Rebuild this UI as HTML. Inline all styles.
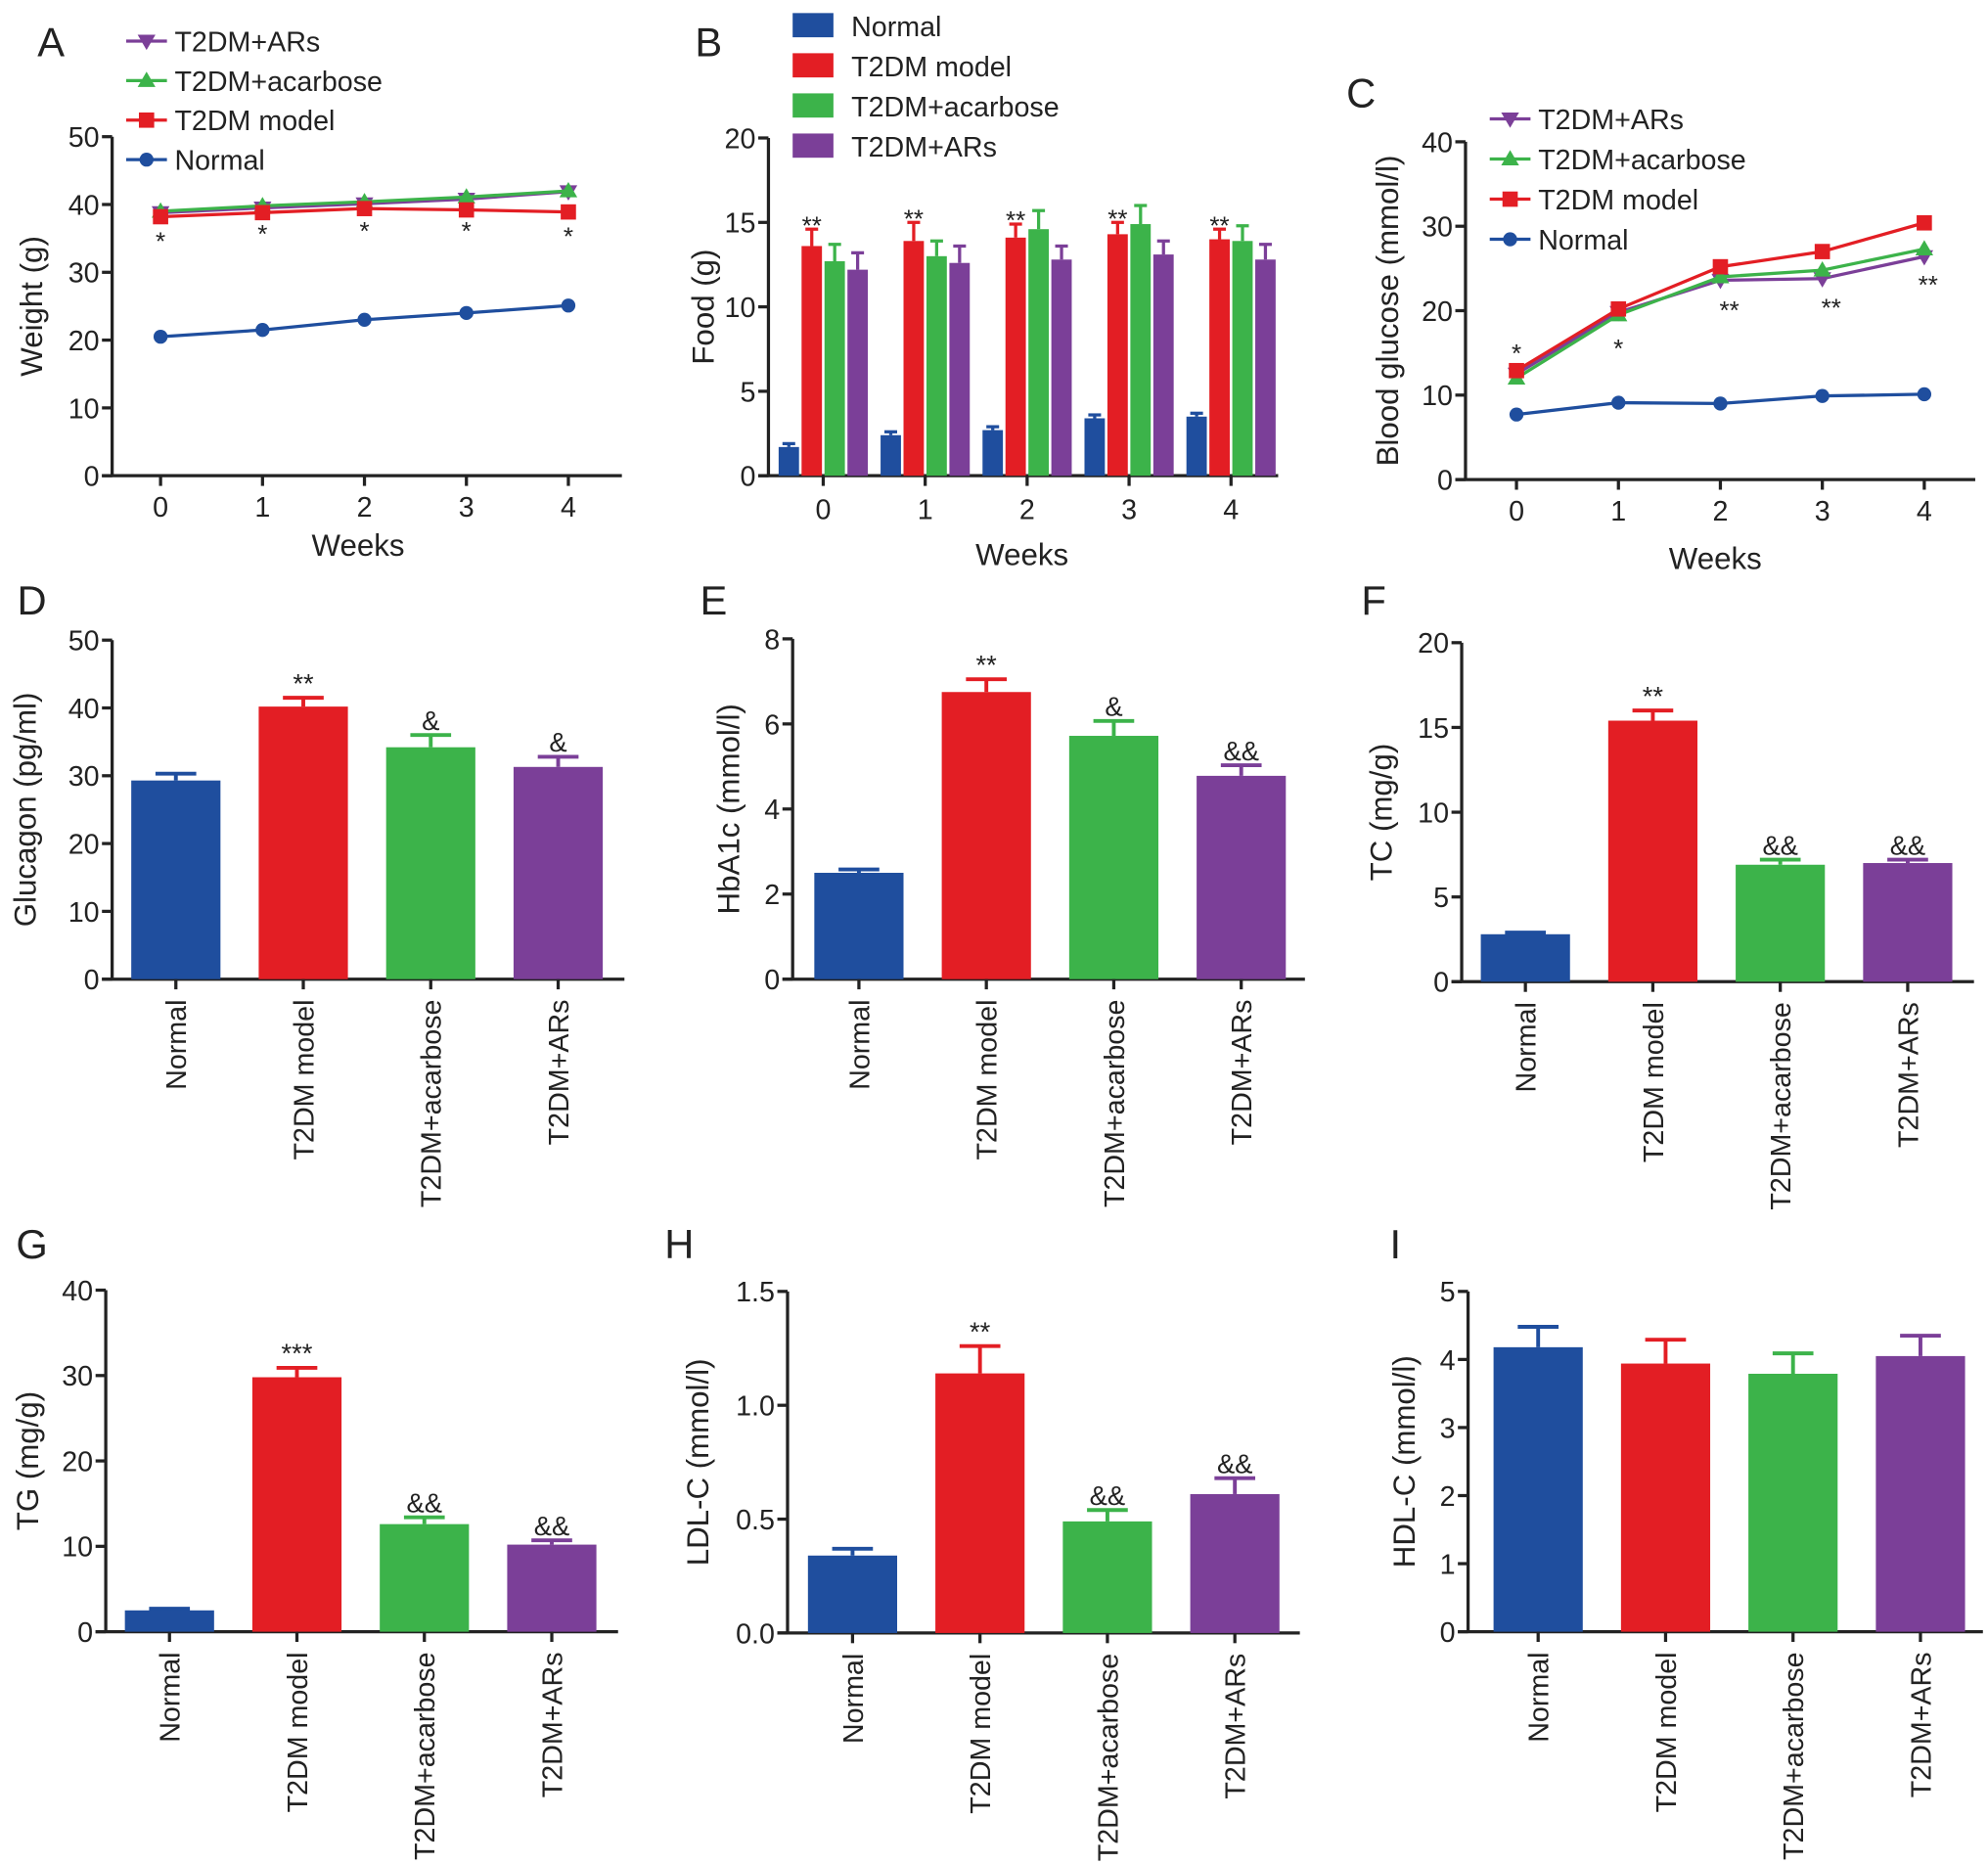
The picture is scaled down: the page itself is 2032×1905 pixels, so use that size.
<!DOCTYPE html>
<html><head><meta charset="utf-8"><style>
html,body{margin:0;padding:0;background:#fff;}
svg{display:block;font-family:"Liberation Sans",Arial,sans-serif;}
</style></head><body>
<svg id="fig" width="2032" height="1905" viewBox="0 0 1560 1462" xmlns="http://www.w3.org/2000/svg"></svg>
<script>
const groups = ["Normal","T2DM model","T2DM+acarbose","T2DM+ARs"];
const colors = ["#1f4e9e","#e31e24","#3cb34a","#7b3f98"];
const weeks = [0,1,2,3,4];
// Panel A weight
const wNormal = [20.5,21.5,23,24,25.1];
const wModel = [38.2,38.8,39.4,39.2,38.9];
const wAcar = [39,39.8,40.4,41.1,42];
const wARs = [38.8,39.5,40.1,40.8,41.9];
// Panel B food
const fNormal = [1.7,2.4,2.7,3.4,3.5];
const fModel = [13.6,13.9,14.1,14.3,14.0];
const fAcar = [12.7,13.0,14.6,14.9,13.9];
const fARs = [12.2,12.6,12.8,13.1,12.8];
const fErr = [[0.2,0.2,0.2,0.2,0.2],[1.0,1.1,0.8,0.7,0.6],[1.0,0.9,1.1,1.1,0.9],[1.0,1.0,0.8,0.8,0.9]];
// Panel C glucose
const gNormal = [7.7,9.1,9.0,9.9,10.1];
const gModel = [12.9,20.2,25.2,27.0,30.4];
const gAcar = [12.0,19.5,24.0,24.8,27.3];
const gARs = [12.5,19.8,23.6,23.8,26.4];
// Bar panels
const glucagon = [29.3,40.2,34.2,31.3], glucagonErr=[1,1.3,1.8,1.5];
const hba1c = [2.5,6.75,5.72,4.78], hba1cErr=[0.08,0.3,0.35,0.25];
const tc = [2.8,15.4,6.9,7.0], tcErr=[0.1,0.6,0.3,0.2];
const tg = [2.5,29.8,12.6,10.2], tgErr=[0.2,1.1,0.8,0.5];
const ldl = [0.34,1.14,0.49,0.61], ldlErr=[0.03,0.12,0.05,0.07];
const hdl = [4.18,3.94,3.79,4.05], hdlErr=[0.3,0.35,0.3,0.3];

const svg=document.getElementById('fig');
const NS="http://www.w3.org/2000/svg";
function mk(tag,a,parent){const e=document.createElementNS(NS,tag);for(const k in a)e.setAttribute(k,a[k]);(parent||svg).appendChild(e);return e;}
function txt(s,x,y,size,anchor,rot){const e=mk('text',{x:x,y:y,'font-size':size,'text-anchor':anchor||'middle',fill:'#222'});if(rot!==undefined)e.setAttribute('transform','rotate('+rot+' '+x+' '+y+')');e.textContent=s;return e;}
function letter(s,x,y){const e=txt(s,x,y,32,'middle');

}

function axes(ox,y0,ytop,xend,ymax,ticks,tickLbls,ylabel,ylx){
 const sy=v=>y0-(v/ymax)*(y0-ytop);
 const ya=mk('line',{x1:ox,y1:y0,x2:ox,y2:ytop,stroke:'#222','stroke-width':2.5});
 
 
 const xa=mk('line',{x1:ox-8,y1:y0,x2:xend,y2:y0,stroke:'#222','stroke-width':2.5});
 
 
 ticks.forEach((t,i)=>{mk('line',{x1:ox-8,y1:sy(t),x2:ox,y2:sy(t),stroke:'#222','stroke-width':2.5});
  const l=txt(tickLbls[i],ox-10,sy(t)+8,22,'end');
  
  });
 const yl=txt(ylabel,ylx,(y0+ytop)/2,24,'middle',-90);
 
 
 return sy;
}

function marker(type,x,y,c){
 let e;
 if(type===0)e=mk('circle',{cx:x,cy:y,r:5.5,fill:c});
 else if(type===1)e=mk('rect',{x:x-6,y:y-6,width:12,height:12,fill:c});
 else if(type===2)e=mk('polygon',{points:`${x},${y-7} ${x-7},${y+5} ${x+7},${y+5}`,fill:c});
 else e=mk('polygon',{points:`${x},${y+7} ${x-7},${y-5} ${x+7},${y-5}`,fill:c});
 
 
}

function linePanel(cfg){
 const sy=axes(cfg.ox,cfg.y0,cfg.ytop,cfg.xend,cfg.ymax,cfg.ticks,cfg.ticks.map(String),cfg.ylabel,cfg.ylx);
 const sx=w=>cfg.x0+w*cfg.dx;
 weeks.forEach(w=>{mk('line',{x1:sx(w),y1:cfg.y0,x2:sx(w),y2:cfg.y0+8,stroke:'#222','stroke-width':2.5});
  const l=txt(String(w),sx(w),cfg.y0+32,22);
  
  });
 const xt=txt('Weeks',cfg.wx,cfg.wy,24);
 
 
 const series=cfg.series;
 [3,2,1,0].forEach(si=>{
  const d=series[si];
  const p=mk('polyline',{points:weeks.map(w=>sx(w)+','+sy(d[w])).join(' '),fill:'none',stroke:colors[si],'stroke-width':2.5});
  
  
  weeks.forEach(w=>marker(si,sx(w),sy(d[w]),colors[si]));
 });
 cfg.stars.forEach(s=>{const t=txt(s[0],s[1],s[2],20);
  
  });
 [3,2,1,0].forEach((si,i)=>{const y=cfg.ly+i*cfg.lgap;
  const g=mk('g',{});
  
  
  mk('line',{x1:cfg.lx-16,y1:y,x2:cfg.lx+16,y2:y,stroke:colors[si],'stroke-width':2.5},g);
  marker(si,cfg.lx,y,colors[si]);
  const t=mk('text',{x:cfg.lx+22,y:y+8,'font-size':22,fill:'#222'},g);t.textContent=groups[si];});
}

linePanel({ox:88,y0:373,ytop:107,xend:488,ymax:50,ticks:[0,10,20,30,40,50],ylabel:'Weight (g)',ylx:33,
 x0:126,dx:80,wx:281,wy:436,series:[wNormal,wModel,wAcar,wARs],
 stars:[['*',126,196],['*',206,190],['*',286,188],['*',366,188],['*',446,192]],lx:115,ly:32,lgap:31});
letter('A',40,44);

linePanel({ox:1150,y0:376,ytop:111,xend:1550,ymax:40,ticks:[0,10,20,30,40],ylabel:'Blood glucose (mmol/l)',ylx:1097,
 x0:1190,dx:80,wx:1346,wy:446,series:[gNormal,gModel,gAcar,gARs],
 stars:[['*',1190,284],['*',1270,280],['**',1357,250],['**',1437,248],['**',1513,230]],lx:1185,ly:93,lgap:31.5});
letter('C',1068,84);

(function(){
 const ox=603,y0=373,ytop=108,ymax=20;
 const sy=axes(ox,y0,ytop,1003,ymax,[0,5,10,15,20],['0','5','10','15','20'],'Food (g)',560);
 const sx=w=>646+w*80;
 const data=[fNormal,fModel,fAcar,fARs];
 weeks.forEach(w=>{mk('line',{x1:sx(w),y1:y0,x2:sx(w),y2:y0+8,stroke:'#222','stroke-width':2.5});
  const l=txt(String(w),sx(w),y0+34,22);
  
  
  data.forEach((d,si)=>{const cx=sx(w)-27+si*18;
   const e=d[w]+fErr[si][w];
   mk('line',{x1:cx,y1:sy(d[w]),x2:cx,y2:sy(e),stroke:colors[si],'stroke-width':2.5});
   mk('line',{x1:cx-5,y1:sy(e),x2:cx+5,y2:sy(e),stroke:colors[si],'stroke-width':2.5});
   const r=mk('rect',{x:cx-8,y:sy(d[w]),width:16,height:y0-sy(d[w]),fill:colors[si]});
   
   });
  const s=txt('**',sx(w)-9,sy(fModel[w]+fErr[1][w])+4,20);
  
  
 });
 const xt=txt('Weeks',802,443,24);
 
 
 groups.forEach((gname,si)=>{const y=20+si*31.5;
  const g=mk('g',{});
  
  
  mk('rect',{x:622,y:y-10,width:32,height:19,fill:colors[si]},g);
  const t=mk('text',{x:668,y:y+8,'font-size':22,fill:'#222'},g);t.textContent=gname;});
 letter('B',556,44);
})();

function barPanel(cfg){
 const sy=axes(cfg.ox,cfg.y0,cfg.ytop,cfg.xend,cfg.ymax,cfg.ticks,cfg.tl,cfg.ylabel,cfg.ylx);
 cfg.vals.forEach((v,i)=>{const cx=cfg.c0+i*100;const e=v+cfg.err[i];
  mk('line',{x1:cx,y1:sy(v),x2:cx,y2:sy(e),stroke:colors[i],'stroke-width':3});
  mk('line',{x1:cx-16,y1:sy(e),x2:cx+16,y2:sy(e),stroke:colors[i],'stroke-width':3});
  const r=mk('rect',{x:cx-35,y:sy(v),width:70,height:cfg.y0-sy(v),fill:colors[i]});
  
  
  mk('line',{x1:cx,y1:cfg.y0,x2:cx,y2:cfg.y0+8,stroke:'#222','stroke-width':2.5});
  const l=txt(groups[i],cx+8,cfg.y0+16,22,'end',-90);
  
  
  if(cfg.marks[i]){const s=txt(cfg.marks[i],cx,sy(e)-4,21);
   
   }
 });
 letter(cfg.L,cfg.lx,cfg.ly);
}
barPanel({ox:88,y0:768,ytop:502,xend:490,ymax:50,ticks:[0,10,20,30,40,50],tl:['0','10','20','30','40','50'],ylabel:'Glucagon (pg/ml)',ylx:28,c0:138,vals:glucagon,err:glucagonErr,marks:['','**','&','&'],L:'D',lx:25,ly:482});
barPanel({ox:622,y0:768,ytop:501,xend:1024,ymax:8,ticks:[0,2,4,6,8],tl:['0','2','4','6','8'],ylabel:'HbA1c (mmol/l)',ylx:580,c0:674,vals:hba1c,err:hba1cErr,marks:['','**','&','&&'],L:'E',lx:560,ly:482});
barPanel({ox:1147,y0:770,ytop:504,xend:1549,ymax:20,ticks:[0,5,10,15,20],tl:['0','5','10','15','20'],ylabel:'TC (mg/g)',ylx:1092,c0:1197,vals:tc,err:tcErr,marks:['','**','&&','&&'],L:'F',lx:1078,ly:482});
barPanel({ox:83,y0:1280,ytop:1012,xend:485,ymax:40,ticks:[0,10,20,30,40],tl:['0','10','20','30','40'],ylabel:'TG (mg/g)',ylx:30,c0:133,vals:tg,err:tgErr,marks:['','***','&&','&&'],L:'G',lx:25,ly:987});
barPanel({ox:618,y0:1281,ytop:1013,xend:1020,ymax:1.5,ticks:[0,0.5,1,1.5],tl:['0.0','0.5','1.0','1.5'],ylabel:'LDL-C (mmol/l)',ylx:556,c0:669,vals:ldl,err:ldlErr,marks:['','**','&&','&&'],L:'H',lx:533,ly:987});
barPanel({ox:1152,y0:1280,ytop:1013,xend:1556,ymax:5,ticks:[0,1,2,3,4,5],tl:['0','1','2','3','4','5'],ylabel:'HDL-C (mmol/l)',ylx:1110,c0:1207,vals:hdl,err:hdlErr,marks:['','','',''],L:'I',lx:1095,ly:987});
</script>
</body></html>
